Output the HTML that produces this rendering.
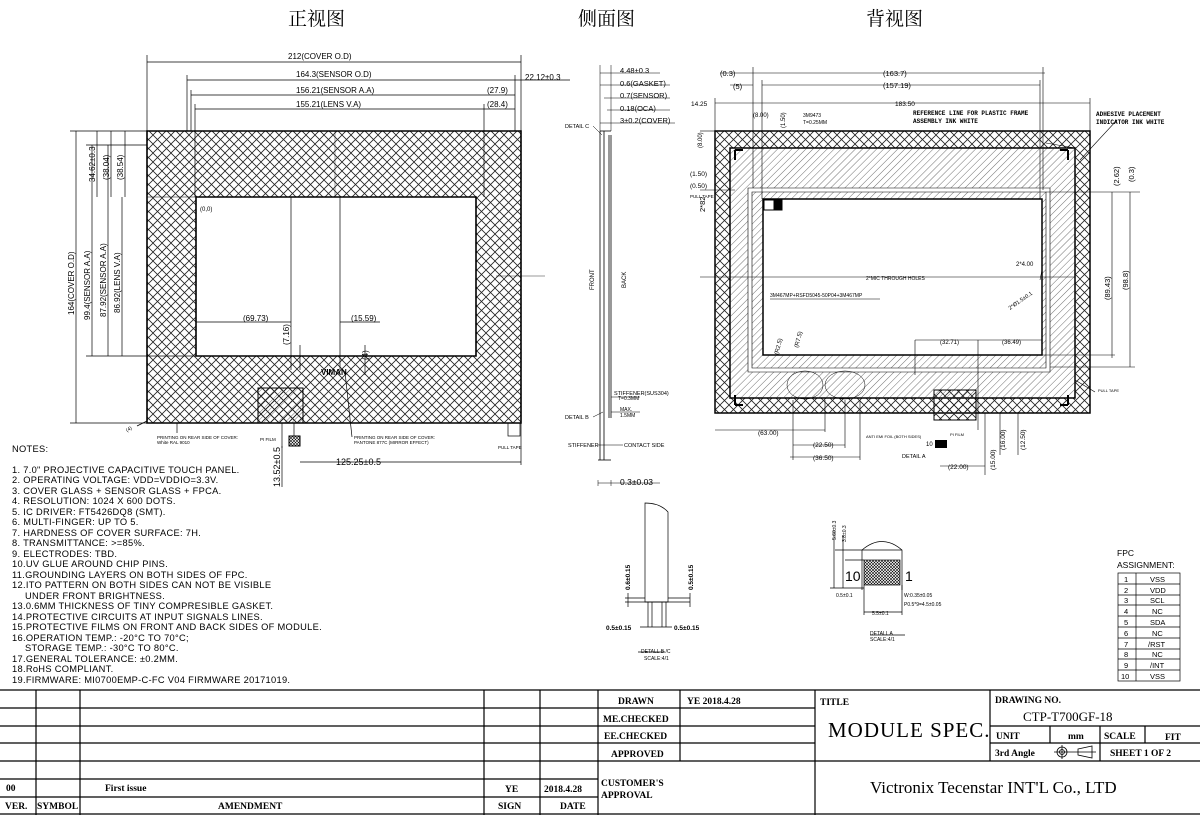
<!DOCTYPE html>
<html><head><meta charset="utf-8"><style>
html,body{margin:0;padding:0;background:#fff;}
svg{display:block;}
text{font-family:"Liberation Sans","Noto Sans CJK SC",sans-serif;fill:#000;}
.s{font-size:8px;}
.m{font-size:9.5px;}
.t{font-family:"Liberation Serif","Noto Serif CJK SC",serif;}
.b{font-weight:bold;font-family:"Liberation Mono",monospace;}
</style></head><body>
<svg width="1200" height="815" viewBox="0 0 1200 815" xmlns="http://www.w3.org/2000/svg">
<defs>
<pattern id="xh" width="9" height="9" patternUnits="userSpaceOnUse">
<path d="M0,0 L9,9 M9,0 L0,9" stroke="#222" stroke-width="0.8"/>
</pattern>
<pattern id="dh" width="5" height="5" patternUnits="userSpaceOnUse" patternTransform="rotate(45)">
<line x1="0" y1="0" x2="0" y2="5" stroke="#333" stroke-width="0.7"/>
</pattern>
<pattern id="fine" width="3" height="3" patternUnits="userSpaceOnUse">
<path d="M0,0 L3,3 M3,0 L0,3" stroke="#000" stroke-width="0.6"/>
</pattern>
</defs>
<text x="288" y="25" class="t" font-size="19">正视图</text>
<text x="578" y="25" class="t" font-size="19">侧面图</text>
<text x="866" y="25" class="t" font-size="19">背视图</text>

<!-- FRONT VIEW -->
<g stroke="#000" fill="none" stroke-width="1">
<path d="M147,131 H521 V423 H147 Z M196,197 V356 H476 V197 Z" fill="url(#xh)" fill-rule="evenodd" stroke-width="1.6"/>
<rect x="258" y="388" width="45" height="35" fill="url(#xh)"/>
<rect x="258" y="388" width="45" height="35" fill="url(#dh)"/>
<rect x="289" y="436" width="11" height="10" fill="url(#fine)"/>
<line x1="147" y1="197" x2="196" y2="197" stroke-width="0.5"/>
<line x1="335" y1="131" x2="335" y2="197" stroke-width="0.4"/>
<line x1="496" y1="276" x2="545" y2="276" stroke-width="0.4"/>
<g stroke-width="0.7">
<line x1="147" y1="62" x2="521" y2="62"/><line x1="147" y1="55" x2="147" y2="131"/><line x1="521" y1="55" x2="521" y2="131"/>
<line x1="187" y1="80" x2="515" y2="80"/><line x1="187" y1="75" x2="187" y2="131"/><line x1="515" y1="75" x2="515" y2="131"/>
<line x1="191" y1="95" x2="515" y2="95"/><line x1="191" y1="90" x2="191" y2="131"/>
<line x1="195" y1="109" x2="515" y2="109"/><line x1="195" y1="104" x2="195" y2="197"/><line x1="484" y1="104" x2="484" y2="197"/>
<line x1="515" y1="80" x2="570" y2="80"/>
<line x1="76" y1="131" x2="76" y2="423"/><line x1="70" y1="131" x2="147" y2="131"/><line x1="70" y1="423" x2="147" y2="423"/>
<line x1="92" y1="145" x2="92" y2="356"/><line x1="108" y1="145" x2="108" y2="356"/><line x1="122" y1="197" x2="122" y2="356"/>
<line x1="97" y1="131" x2="97" y2="197"/><line x1="111" y1="131" x2="111" y2="197"/><line x1="125" y1="131" x2="125" y2="197"/>
<line x1="86" y1="356" x2="196" y2="356"/><line x1="86" y1="145" x2="147" y2="145"/>
<line x1="196" y1="322" x2="291" y2="322"/><line x1="291" y1="197" x2="291" y2="370"/>
<line x1="340" y1="322" x2="380" y2="322"/><line x1="340" y1="197" x2="340" y2="370"/>
<line x1="300" y1="345" x2="300" y2="370"/><line x1="365" y1="345" x2="365" y2="375"/>
<line x1="300" y1="462" x2="521" y2="462"/><line x1="521" y1="423" x2="521" y2="465"/>
<line x1="282" y1="423" x2="282" y2="448"/><line x1="282" y1="446" x2="282" y2="487"/>
<line x1="294" y1="423" x2="294" y2="436"/>
<line x1="345" y1="372" x2="352" y2="437"/><line x1="177" y1="423" x2="177" y2="433"/>
<rect x="508" y="423" width="12" height="13"/>
<line x1="137" y1="426" x2="147" y2="421"/>
</g>
</g>
<text x="321" y="375" font-size="8" font-weight="bold">VIMAN</text>
<g class="s" font-size="8">
<text x="288" y="59">212(COVER O.D)</text>
<text x="296" y="77">164.3(SENSOR O.D)</text>
<text x="296" y="93">156.21(SENSOR A.A)</text>
<text x="296" y="107">155.21(LENS V.A)</text>
<text x="487" y="93">(27.9)</text>
<text x="487" y="107">(28.4)</text>
<text x="525" y="80">22.12±0.3</text>
<text x="200" y="211" font-size="6">(0,0)</text>
<text x="243" y="321">(69.73)</text>
<text x="351" y="321">(15.59)</text>
<text x="336" y="465" font-size="9">125.25±0.5</text>
<text x="157" y="439" font-size="4.5">PRINTING ON REAR SIDE OF COVER:</text>
<text x="157" y="444" font-size="4.5">White RAL 9010</text>
<text x="354" y="439" font-size="4.5">PRINTING ON REAR SIDE OF COVER:</text>
<text x="354" y="444" font-size="4.5">PANTONE 877C (MIRROR EFFECT)</text>
<text x="260" y="441" font-size="4.5">PI FILM</text>
<text x="498" y="449" font-size="4.5">PULL TAPE</text>
<text x="127" y="432" font-size="5" transform="rotate(-30 127 432)">(4)</text>
</g>
<g font-size="8">
<text transform="translate(74,315) rotate(-90)">164(COVER O.D)</text>
<text transform="translate(90,320) rotate(-90)">99.4(SENSOR A.A)</text>
<text transform="translate(106,317) rotate(-90)">87.92(SENSOR A.A)</text>
<text transform="translate(120,313) rotate(-90)">86.92(LENS V.A)</text>
<text transform="translate(95,182) rotate(-90)">34.62±0.3</text>
<text transform="translate(109,180) rotate(-90)">(38.04)</text>
<text transform="translate(123,180) rotate(-90)">(38.54)</text>
<text transform="translate(289,345) rotate(-90)">(7.16)</text>
<text transform="translate(368,360) rotate(-90)">(4)</text>
<text transform="translate(280,487) rotate(-90)" font-size="9">13.52±0.5</text>
</g>

<!-- SIDE VIEW -->
<g stroke="#000" fill="none" stroke-width="0.8">
<path d="M600,131 V460 M604,131 V460 M609,135 V418 M611,135 V418"/>
<line x1="600" y1="131" x2="611" y2="131"/>
<line x1="598" y1="460" x2="611" y2="460"/>
<g stroke-width="0.5">
<line x1="600" y1="73" x2="660" y2="73"/><line x1="600" y1="85" x2="670" y2="85"/>
<line x1="604" y1="98" x2="670" y2="98"/><line x1="607" y1="110" x2="670" y2="110"/>
<line x1="600" y1="123" x2="675" y2="123"/>
<line x1="600" y1="65" x2="600" y2="131"/><line x1="611" y1="65" x2="611" y2="131"/>
<line x1="593" y1="126" x2="602" y2="135"/>
<line x1="593" y1="417" x2="603" y2="412"/>
<line x1="611" y1="397" x2="640" y2="397"/>
<line x1="611" y1="412" x2="640" y2="412"/>
<line x1="598" y1="445" x2="623" y2="445"/>
<line x1="598" y1="480" x2="598" y2="486"/><line x1="611" y1="480" x2="611" y2="486"/>
<line x1="598" y1="483" x2="660" y2="483"/>
</g>
</g>
<g font-size="7.5">
<text x="620" y="73">4.48±0.3</text>
<text x="620" y="86">0.6(GASKET)</text>
<text x="620" y="98">0.7(SENSOR)</text>
<text x="620" y="111">0.18(OCA)</text>
<text x="620" y="123">3±0.2(COVER)</text>
<text x="620" y="485" font-size="8.5">0.3±0.03</text>
<text x="565" y="128" font-size="5.5">DETAIL C</text>
<text x="565" y="419" font-size="5.5">DETAIL B</text>
<text x="614" y="395" font-size="5.5">STIFFENER(SUS304)</text>
<text x="618" y="400" font-size="5">T=0.3MM</text>
<text x="620" y="411" font-size="5">MAX.</text>
<text x="620" y="417" font-size="5">1.5MM</text>
<text x="568" y="447" font-size="5.5">STIFFENER</text>
<text x="624" y="447" font-size="5.5">CONTACT SIDE</text>
<text transform="translate(594,290) rotate(-90)" font-size="6">FRONT</text>
<text transform="translate(626,288) rotate(-90)" font-size="6">BACK</text>
</g>

<!-- BACK VIEW -->
<g stroke="#000" fill="none" stroke-width="1">
<path d="M715,131 H1090 V413 H715 Z M730,148 V398 H1075 V148 Z" fill="url(#xh)" fill-rule="evenodd" stroke-width="1.5"/>
<path d="M730,148 H1075 V398 H730 Z M748,188 V372 H1050 V188 Z" fill="url(#dh)" fill-rule="evenodd" stroke-width="0.6"/>
<path d="M752,192 H1046 V368 H752 Z M763,199 V355 H1042 V199 Z" fill="url(#dh)" fill-rule="evenodd" stroke-width="0.6"/>
<rect x="763" y="199" width="279" height="156" stroke-width="1.5"/>
<rect x="764" y="200" width="18" height="10" fill="#fff"/>
<rect x="774" y="200" width="8" height="10" fill="#000"/>
<rect x="934" y="390" width="42" height="30" fill="url(#xh)"/>
<path d="M735,150 h8 M735,150 v10 M1068,150 h-8 M1068,150 v10 M735,405 h8 M735,405 v-10 M1068,405 h-8 M1068,405 v-10" stroke-width="2"/>
<ellipse cx="805" cy="385" rx="18" ry="14" stroke-width="0.5"/>
<ellipse cx="845" cy="385" rx="20" ry="14" stroke-width="0.5"/>
<g stroke-width="0.6">
<line x1="753" y1="73" x2="1045" y2="73"/><line x1="753" y1="67" x2="753" y2="188"/><line x1="1043" y1="67" x2="1043" y2="190"/>
<line x1="762" y1="85" x2="1040" y2="85"/><line x1="762" y1="80" x2="762" y2="199"/><line x1="1040" y1="80" x2="1040" y2="199"/>
<line x1="715" y1="103" x2="1090" y2="103"/><line x1="715" y1="98" x2="715" y2="131"/><line x1="1090" y1="98" x2="1090" y2="131"/>
<line x1="720" y1="73" x2="753" y2="73"/><line x1="730" y1="85" x2="753" y2="85"/>
<line x1="700" y1="277" x2="1075" y2="277"/>
<line x1="1112" y1="192" x2="1112" y2="358"/><line x1="1130" y1="192" x2="1130" y2="367"/>
<line x1="1046" y1="192" x2="1140" y2="192"/><line x1="1042" y1="355" x2="1115" y2="355"/><line x1="1050" y1="367" x2="1135" y2="367"/>
<line x1="1040" y1="280" x2="1042" y2="270"/>
<line x1="770" y1="299" x2="880" y2="299"/>
<line x1="1046" y1="143" x2="1075" y2="148"/>
<line x1="1080" y1="160" x2="1117" y2="120"/>
<line x1="915" y1="340" x2="1042" y2="340"/><line x1="915" y1="340" x2="915" y2="375"/><line x1="978" y1="340" x2="978" y2="430"/>
<line x1="715" y1="430" x2="825" y2="430"/><line x1="825" y1="400" x2="825" y2="432"/>
<line x1="793" y1="445" x2="845" y2="445"/><line x1="793" y1="400" x2="793" y2="460"/><line x1="845" y1="400" x2="845" y2="448"/>
<line x1="790" y1="457" x2="860" y2="457"/><line x1="860" y1="400" x2="860" y2="460"/>
<line x1="940" y1="466" x2="985" y2="466"/><line x1="985" y1="413" x2="985" y2="475"/>
<line x1="1000" y1="413" x2="1000" y2="455"/><line x1="1018" y1="413" x2="1018" y2="455"/>
<line x1="700" y1="131" x2="715" y2="131"/><line x1="700" y1="190" x2="735" y2="190"/>
<line x1="1075" y1="380" x2="1095" y2="392"/>
</g>
</g>
<g font-size="7.5">
<text x="720" y="76">(0.3)</text>
<text x="733" y="89">(5)</text>
<text x="883" y="76">(163.7)</text>
<text x="883" y="88">(157.19)</text>
<text x="895" y="106" font-size="6.5">183.50</text>
<text x="691" y="106" font-size="6.5">14.25</text>
<text x="690" y="176" font-size="6.5">(1.50)</text>
<text x="690" y="188" font-size="6.5">(0.50)</text>
<text x="690" y="198" font-size="4.5">PULL TAPE</text>
<text x="753" y="117" font-size="6">(8.00)</text>
<text x="803" y="117" font-size="5">3M9473</text>
<text x="803" y="124" font-size="5">T=0.25MM</text>
<text x="913" y="115" font-size="6" class="b">REFERENCE LINE FOR PLASTIC FRAME</text>
<text x="913" y="123" font-size="6" class="b">ASSEMBLY INK WHITE</text>
<text x="1096" y="116" font-size="6" class="b">ADHESIVE PLACEMENT</text>
<text x="1096" y="124" font-size="6" class="b">INDICATOR INK WHITE</text>
<text x="866" y="280" font-size="5">2*MIC THROUGH HOLES</text>
<text x="1016" y="266" font-size="6">2*4.00</text>
<text x="770" y="297" font-size="5">3M467MP+RSFD5045-50P04+3M467MP</text>
<text x="940" y="344" font-size="6">(32.71)</text>
<text x="1002" y="344" font-size="6">(36.49)</text>
<text x="758" y="435" font-size="6.5">(63.00)</text>
<text x="813" y="447" font-size="6.5">(22.50)</text>
<text x="813" y="460" font-size="6.5">(36.50)</text>
<text x="948" y="469" font-size="6.5">(22.00)</text>
<text x="866" y="438" font-size="4">ANTI EMI FOIL (BOTH SIDES)</text>
<text x="950" y="436" font-size="4">PI FILM</text>
<text x="902" y="458" font-size="5.5">DETAIL A</text>
<text x="926" y="446" font-size="6">10</text>
<rect x="935" y="440" width="12" height="8" fill="#000"/>
<text x="1098" y="392" font-size="4">PULL TAPE</text>
<text transform="translate(1110,300) rotate(-90)">(89.43)</text>
<text transform="translate(1128,290) rotate(-90)">(98.8)</text>
<text transform="translate(1119,186) rotate(-90)">(2.62)</text>
<text transform="translate(1134,182) rotate(-90)">(0.3)</text>
<text transform="translate(705,212) rotate(-90)">2*82</text>
<text transform="translate(702,148) rotate(-90)" font-size="6">(8.00)</text>
<text transform="translate(785,128) rotate(-90)" font-size="6">(1.50)</text>
<text transform="translate(1010,310) rotate(-35)" font-size="5.5">2*Ø1.5±0.1</text>
<text transform="translate(778,355) rotate(-75)" font-size="6">(R2.5)</text>
<text transform="translate(798,348) rotate(-75)" font-size="6">(R7.5)</text>
<text transform="translate(995,470) rotate(-90)" font-size="6.5">(15.00)</text>
<text transform="translate(1005,450) rotate(-90)" font-size="6.5">(16.00)</text>
<text transform="translate(1025,450) rotate(-90)" font-size="6.5">(12.50)</text>
</g>

<!-- DETAIL B/C -->
<g stroke="#000" fill="none" stroke-width="0.7">
<path d="M645,602 V503 Q660,503 668,512 V602 Z"/>
<path d="M648,602 V627 M652,602 V627 M662,602 V627 M666,602 V627"/>
<line x1="625" y1="598" x2="645" y2="598"/><line x1="668" y1="598" x2="690" y2="598"/>
<line x1="625" y1="602" x2="690" y2="602"/>
<line x1="628" y1="593" x2="628" y2="607"/><line x1="690" y1="593" x2="690" y2="607"/>
<line x1="640" y1="627" x2="672" y2="627"/>
<line x1="638" y1="652" x2="665" y2="652"/>
</g>
<g font-size="6.5" class="b">
<text transform="translate(630,590) rotate(-90)">0.6±0.15</text>
<text transform="translate(693,590) rotate(-90)">0.5±0.15</text>
<text x="606" y="630">0.5±0.15</text>
<text x="674" y="630">0.5±0.15</text>
</g>
<text x="641" y="653" font-size="5">DETALL B /C</text>
<text x="644" y="660" font-size="5">SCALE:4/1</text>

<!-- DETAIL A -->
<g stroke="#000" fill="none" stroke-width="0.7">
<path d="M862,590 V550 Q882,533 902,550 V590"/>
<rect x="864" y="560" width="36" height="25" fill="url(#fine)"/>
<line x1="835" y1="550" x2="902" y2="550"/><line x1="845" y1="560" x2="864" y2="560"/>
<line x1="834" y1="530" x2="834" y2="588"/><line x1="843" y1="535" x2="843" y2="588"/>
<line x1="830" y1="588" x2="864" y2="588"/>
<line x1="864" y1="585" x2="864" y2="615"/><line x1="902" y1="585" x2="902" y2="615"/>
<line x1="864" y1="612" x2="902" y2="612"/>
<line x1="870" y1="635" x2="905" y2="635"/>
</g>
<text x="845" y="581" font-size="14" fill="#555">10</text>
<text x="905" y="581" font-size="14" fill="#555">1</text>
<g font-size="5">
<text x="836" y="597">0.5±0.1</text>
<text x="904" y="597">W:0.35±0.05</text>
<text x="904" y="606">P0.5*9=4.5±0.05</text>
<text x="872" y="615">5.5±0.1</text>
<text x="870" y="635">DETALL A</text>
<text x="870" y="641">SCALE:4/1</text>
<text transform="translate(836,540) rotate(-90)">5.60±0.3</text>
<text transform="translate(846,542) rotate(-90)">3.8±0.3</text>
</g>

<!-- FPC TABLE -->
<text x="1117" y="556" font-size="8.5">FPC</text>
<text x="1117" y="568" font-size="8.5">ASSIGNMENT:</text>
<g stroke="#000" stroke-width="0.7" fill="none">
<rect x="1118" y="573" width="62" height="108"/>
<line x1="1136" y1="573" x2="1136" y2="681"/>
<path d="M1118,584 H1180 M1118,595 H1180 M1118,605 H1180 M1118,616 H1180 M1118,627 H1180 M1118,638 H1180 M1118,649 H1180 M1118,659 H1180 M1118,670 H1180"/>
</g>
<g font-size="7.5">
<text x="1124" y="582">1</text><text x="1150" y="582">VSS</text>
<text x="1124" y="593">2</text><text x="1150" y="593">VDD</text>
<text x="1124" y="603">3</text><text x="1150" y="603">SCL</text>
<text x="1124" y="614">4</text><text x="1152" y="614">NC</text>
<text x="1124" y="625">5</text><text x="1150" y="625">SDA</text>
<text x="1124" y="636">6</text><text x="1152" y="636">NC</text>
<text x="1124" y="647">7</text><text x="1148" y="647">/RST</text>
<text x="1124" y="657">8</text><text x="1152" y="657">NC</text>
<text x="1124" y="668">9</text><text x="1150" y="668">/INT</text>
<text x="1121" y="679">10</text><text x="1150" y="679">VSS</text>
</g>

<!-- NOTES -->
<g font-size="9.3" letter-spacing="0.3">
<text x="12" y="452">NOTES:</text>
<text x="12" y="473">1. 7.0" PROJECTIVE CAPACITIVE TOUCH PANEL.</text>
<text x="12" y="483">2. OPERATING VOLTAGE: VDD=VDDIO=3.3V.</text>
<text x="12" y="494">3. COVER GLASS + SENSOR GLASS + FPCA.</text>
<text x="12" y="504">4. RESOLUTION: 1024 X 600 DOTS.</text>
<text x="12" y="515">5. IC DRIVER: FT5426DQ8 (SMT).</text>
<text x="12" y="525">6. MULTI-FINGER: UP TO 5.</text>
<text x="12" y="536">7. HARDNESS OF COVER SURFACE: 7H.</text>
<text x="12" y="546">8. TRANSMITTANCE: &gt;=85%.</text>
<text x="12" y="557">9. ELECTRODES: TBD.</text>
<text x="12" y="567">10.UV GLUE AROUND CHIP PINS.</text>
<text x="12" y="578">11.GROUNDING LAYERS ON BOTH SIDES OF FPC.</text>
<text x="12" y="588">12.ITO PATTERN ON BOTH SIDES CAN NOT BE VISIBLE</text>
<text x="25" y="599">UNDER FRONT BRIGHTNESS.</text>
<text x="12" y="609">13.0.6MM THICKNESS OF TINY COMPRESIBLE GASKET.</text>
<text x="12" y="620">14.PROTECTIVE CIRCUITS AT INPUT SIGNALS LINES.</text>
<text x="12" y="630">15.PROTECTIVE FILMS ON FRONT AND BACK SIDES OF MODULE.</text>
<text x="12" y="641">16.OPERATION TEMP.: -20°C TO 70°C;</text>
<text x="25" y="651">STORAGE TEMP.: -30°C TO 80°C.</text>
<text x="12" y="662">17.GENERAL TOLERANCE: ±0.2MM.</text>
<text x="12" y="672">18.RoHS COMPLIANT.</text>
<text x="12" y="683">19.FIRMWARE: MI0700EMP-C-FC V04 FIRMWARE 20171019.</text>
</g>

<!-- TITLE BLOCK -->
<g stroke="#000" stroke-width="1.2" fill="none">
<line x1="0" y1="690" x2="1200" y2="690"/>
<path d="M0,708 H598 M0,726 H598 M0,743 H598 M0,761 H598 M0,779 H598 M0,797 H598"/>
<path d="M598,708 H815 M598,726 H815 M598,743 H815 M598,761 H1200"/>
<path d="M36,690 V815 M80,690 V815 M484,690 V815 M540,690 V815 M598,690 V815 M680,690 V761 M815,690 V815 M990,690 V761"/>
<path d="M990,726 H1200 M990,743 H1200 M1050,726 V743 M1100,726 V761 M1145,726 V743"/>
<line x1="0" y1="814" x2="1200" y2="814"/>
</g>
<g font-weight="bold" font-size="9.5">
<text x="618" y="704" style="font-family:'Liberation Serif',serif">DRAWN</text>
<text x="687" y="704" style="font-family:'Liberation Serif',serif">YE  2018.4.28</text>
<text x="603" y="722" style="font-family:'Liberation Serif',serif">ME.CHECKED</text>
<text x="604" y="739" style="font-family:'Liberation Serif',serif">EE.CHECKED</text>
<text x="611" y="757" style="font-family:'Liberation Serif',serif">APPROVED</text>
<text x="601" y="786" style="font-family:'Liberation Serif',serif">CUSTOMER'S</text>
<text x="601" y="798" style="font-family:'Liberation Serif',serif">APPROVAL</text>
<text x="820" y="705" style="font-family:'Liberation Serif',serif">TITLE</text>
<text x="995" y="703" style="font-family:'Liberation Serif',serif">DRAWING  NO.</text>
<text x="996" y="739" style="font-family:'Liberation Serif',serif">UNIT</text>
<text x="1068" y="739" style="font-family:'Liberation Serif',serif">mm</text>
<text x="1104" y="739" style="font-family:'Liberation Serif',serif">SCALE</text>
<text x="1165" y="740" style="font-family:'Liberation Serif',serif">FIT</text>
<text x="995" y="756" style="font-family:'Liberation Serif',serif">3rd  Angle</text>
<text x="1110" y="756" style="font-family:'Liberation Serif',serif">SHEET  1  OF  2</text>
<text x="6" y="791" style="font-family:'Liberation Serif',serif">00</text>
<text x="105" y="791" style="font-family:'Liberation Serif',serif">First  issue</text>
<text x="505" y="792" style="font-family:'Liberation Serif',serif">YE</text>
<text x="544" y="792" style="font-family:'Liberation Serif',serif">2018.4.28</text>
<text x="5" y="809" style="font-family:'Liberation Serif',serif">VER.</text>
<text x="37" y="809" style="font-family:'Liberation Serif',serif">SYMBOL</text>
<text x="218" y="809" style="font-family:'Liberation Serif',serif">AMENDMENT</text>
<text x="498" y="809" style="font-family:'Liberation Serif',serif">SIGN</text>
<text x="560" y="809" style="font-family:'Liberation Serif',serif">DATE</text>
</g>
<text x="828" y="737" font-size="21" letter-spacing="1" style="font-family:'Liberation Serif',serif">MODULE  SPEC.</text>
<text x="1023" y="721" font-size="13" fill="#333" style="font-family:'Liberation Serif',serif">CTP-T700GF-18</text>
<text x="870" y="793" font-size="17" style="font-family:'Liberation Serif',serif">Victronix Tecenstar INT'L Co., LTD</text>
<g stroke="#000" fill="none" stroke-width="0.8">
<circle cx="1062" cy="752" r="5"/><circle cx="1062" cy="752" r="2.5"/>
<line x1="1054" y1="752" x2="1096" y2="752"/><line x1="1062" y1="745" x2="1062" y2="759"/>
<path d="M1078,749 L1092,746 V758 L1078,755 Z"/>
</g>
</svg>
</body></html>
